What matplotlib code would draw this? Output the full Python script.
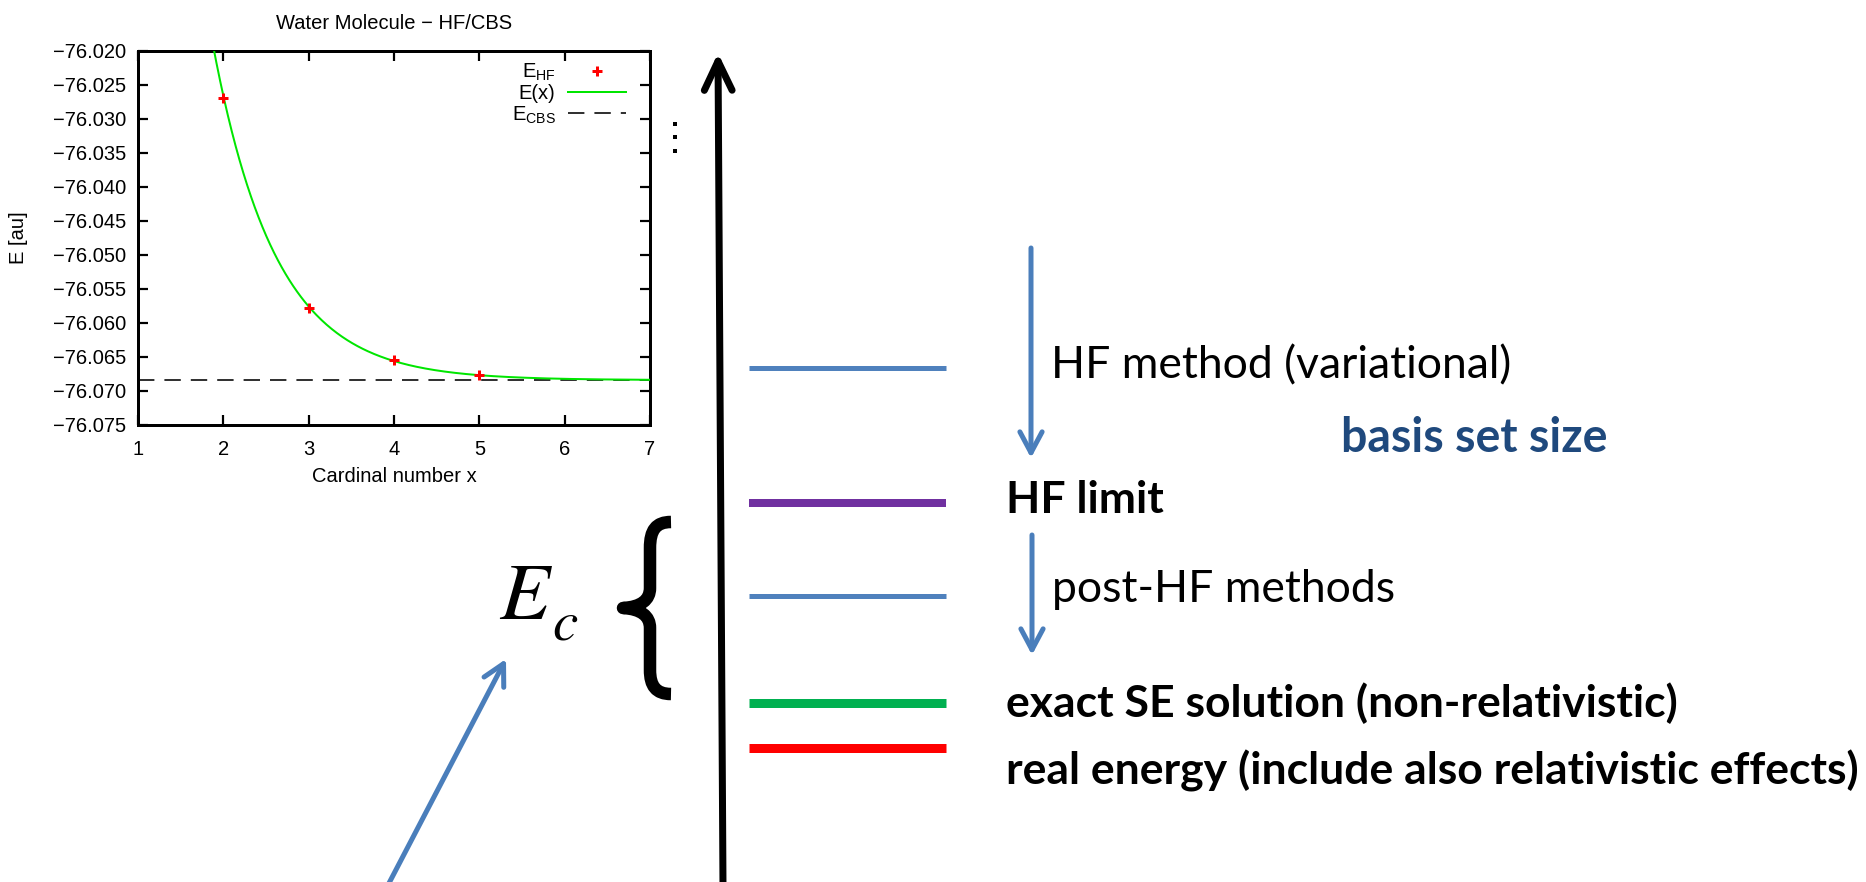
import numpy as np
import matplotlib
matplotlib.use("Agg")
import matplotlib.pyplot as plt
from matplotlib.path import Path
from matplotlib.patches import PathPatch

# ---------------- data ----------------
cardinal_x = [2, 3, 4, 5]
E_HF = [-76.0269, -76.0578, -76.0654, -76.0677]
E_CBS = -76.0684
x_ticks = [1, 2, 3, 4, 5, 6, 7]
y_ticks = [-76.020, -76.025, -76.030, -76.035, -76.040, -76.045, -76.050,
           -76.055, -76.060, -76.065, -76.070, -76.075]

level_colors = ['#4F81BD', '#7030A0', '#4F81BD', '#00B050', '#FF0000']
level_labels = ["HF method (variational)", "HF limit", "post-HF methods",
                "exact SE solution (non-relativistic)",
                "real energy (include also relativistic effects)"]
level_bold = [False, True, False, True, True]

# ---------------- layout (pixels) ----------------
W, H = 1866, 882
level_y = [368, 503, 596, 703, 748]
level_thick = [5, 8, 5, 9, 9]
level_x0, level_x1 = 749, 946
label_x = [1051, 1006, 1052, 1006, 1006]
label_base = [378, 513, 602, 717, 785]

fig = plt.figure(figsize=(W / 100, H / 100), dpi=100)
px = 72 / 100  # points per pixel
plt.rcParams['mathtext.default'] = 'regular'

# overlay for the diagram
ov = fig.add_axes([0, 0, 1, 1], zorder=0)
ov.set_xlim(0, W)
ov.set_ylim(H, 0)
ov.axis('off')
ov.patch.set_alpha(0)

# ---------------- fitted plot ----------------
ax = fig.add_axes([138 / W, 1 - 425 / H, 512 / W, 374 / H], zorder=2)
pfont = 'Liberation Sans'
fs = 14.5

# exponential fit E(x) = E_CBS + A exp(-B x) obtained from the data
coef = np.polyfit(cardinal_x, np.log(np.array(E_HF) - E_CBS), 1)
xs = np.linspace(1, 7, 400)
Ex = E_CBS + np.exp(np.polyval(coef, xs))

ax.plot(cardinal_x, E_HF, linestyle='none', marker='+', ms=10 * px,
        mew=3 * px, color='red', label=r'$E_{HF}$', zorder=4)
ax.plot(xs, Ex, color='#00E600', lw=2 * px, label='E(x)', zorder=3)
ax.axhline(E_CBS, color='#333333', lw=2 * px, dashes=(8.2, 5.0),
           label=r'$E_{CBS}$', zorder=2)

ax.set_xlim(1, 7)
ax.set_ylim(-76.075, -76.020)
ax.set_xticks(x_ticks)
ax.set_yticks(y_ticks)
ax.set_xticklabels([str(v) for v in x_ticks], fontfamily=pfont, fontsize=fs)
ax.set_yticklabels(['\u2212%.3f' % abs(v) for v in y_ticks],
                   fontfamily=pfont, fontsize=fs)
ax.tick_params(direction='in', length=10 * px, width=2.2 * px,
               top=True, right=True, colors='black')
ax.tick_params(axis='y', pad=8.5)
ax.tick_params(axis='x', pad=10.5)
for s in ax.spines.values():
    s.set_linewidth(3 * px)
ax.set_title('Water Molecule \u2212 HF/CBS', fontfamily=pfont, fontsize=fs, pad=16)
ax.set_xlabel('Cardinal number x', fontfamily=pfont, fontsize=fs)
ax.xaxis.set_label_coords(0.5, (425 - 467) / 374)
ax.set_ylabel('E [au]', fontfamily=pfont, fontsize=fs)
ax.yaxis.set_label_coords((28 - 138) / 512, 0.5)

leg = ax.legend(loc='upper right', markerfirst=False, frameon=False,
                prop={'family': pfont, 'size': fs}, handlelength=2.9,
                handletextpad=0.6, labelspacing=0.05, borderpad=0.0,
                borderaxespad=0.0, bbox_to_anchor=((626 - 138) / 512, (425 - 62) / 374))
for t in leg.get_texts():
    t.set_ha('right')

# ---------------- diagram ----------------
# small vertical dots
ov.plot([675, 675, 675], [124, 137, 151], linestyle='none', marker='s',
        ms=3.8 * px, mew=0, color='black')

# big energy axis arrow
ov.annotate('', xy=(718, 53), xytext=(723, H + 5),
            arrowprops=dict(arrowstyle='->,head_length=2.1,head_width=1.0',
                            lw=7 * px, color='black', shrinkA=0, shrinkB=0,
                            mutation_scale=10))

for y, c, t in zip(level_y, level_colors, level_thick):
    ov.plot([level_x0, level_x1], [y, y], color=c, lw=t * px,
            solid_capstyle='butt')

tfont = 'Lato'
for lab, x, yb, b in zip(level_labels, label_x, label_base, level_bold):
    ov.text(x, yb, lab, fontfamily=tfont, fontsize=32,
            fontweight='bold' if b else 'normal', ha='left', va='baseline',
            color='black')

ov.text(1341, 452, 'basis set size', fontfamily=tfont, fontsize=33.5,
        fontweight='bold', color='#1F497D', ha='left', va='baseline')

blue = '#4A7EBB'
for (x0, y0, x1, y1) in [(1031, 248, 1031, 458), (1032, 535, 1032, 655),
                         (387, H + 5, 506, 659)]:
    ov.annotate('', xy=(x1, y1), xytext=(x0, y0),
                arrowprops=dict(arrowstyle='->,head_length=1.5,head_width=0.8',
                                lw=5 * px, color=blue, shrinkA=0, shrinkB=0,
                                mutation_scale=10))

# E_c (subscript set apart as in the slide)
ov.text(499, 619, r'$\mathit{E}$', fontsize=59, ha='left',
        va='baseline', color='black', math_fontfamily='stix')
ov.text(552, 639, r'$\mathit{c}$', fontsize=41, ha='left',
        va='baseline', color='black', math_fontfamily='stix')

# curly brace
verts = [(671, 522), (656, 522), (650, 530), (650, 548),
         (650, 588),
         (650, 600), (641, 607), (623, 608),
         (641, 609), (650, 616), (650, 628),
         (650, 670),
         (650, 686), (656, 694), (671, 694)]
codes = [Path.MOVETO, Path.CURVE4, Path.CURVE4, Path.CURVE4,
         Path.LINETO,
         Path.CURVE4, Path.CURVE4, Path.CURVE4,
         Path.CURVE4, Path.CURVE4, Path.CURVE4,
         Path.LINETO,
         Path.CURVE4, Path.CURVE4, Path.CURVE4]
ov.add_patch(PathPatch(Path(verts, codes), facecolor='none', edgecolor='black',
                       lw=12.5 * px, capstyle='butt', joinstyle='round'))

fig.savefig('out.png', dpi=100, facecolor='white')
